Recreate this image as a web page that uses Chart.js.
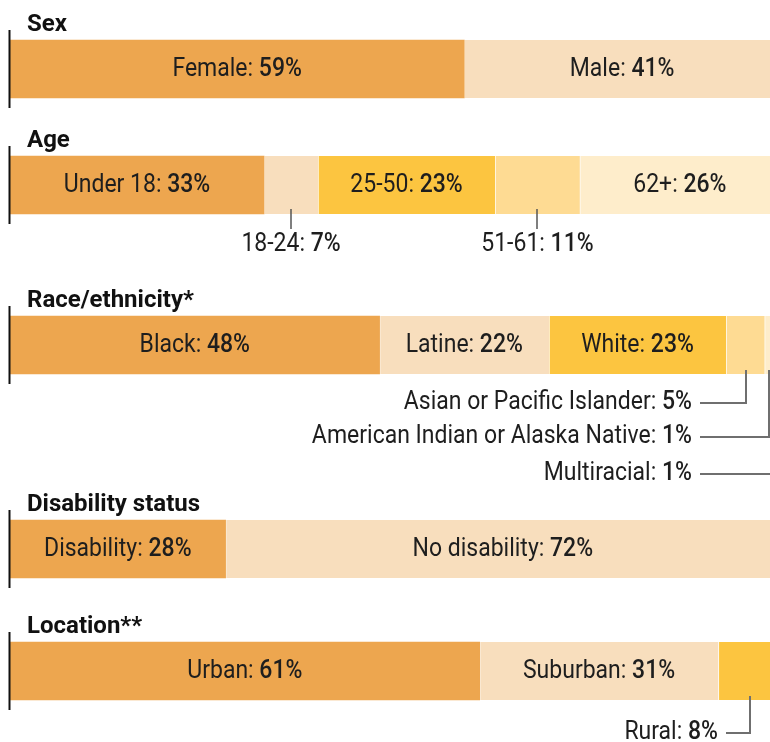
<!DOCTYPE html>
<html>
<head>
<meta charset="utf-8">
<script src="https://cdn.jsdelivr.net/npm/chart.js@4"></script>
<style>
  html, body { margin: 0; padding: 0; background: #fff; width: 770px; height: 742px; overflow: hidden; }
  canvas { position: absolute; left: 0; }
</style>
</head>
<body>
<canvas id="c0" width="780"></canvas>
<canvas id="c1" width="780"></canvas>
<canvas id="c2" width="780"></canvas>
<canvas id="c3" width="780"></canvas>
<canvas id="c4" width="780"></canvas>
<script>
// data
const groupTitles = ['Sex', 'Age', 'Race/ethnicity*', 'Disability status', 'Location**'];

const sexLabels = ['Female', 'Male'];
const sexValues = [59, 41];

const ageLabels = ['Under 18', '18-24', '25-50', '51-61', '62+'];
const ageValues = [33, 7, 23, 11, 26];

const raceLabels = ['Black', 'Latine', 'White', 'Asian or Pacific Islander', 'American Indian or Alaska Native', 'Multiracial'];
const raceValues = [48, 22, 23, 5, 1, 1];

const disabilityLabels = ['Disability', 'No disability'];
const disabilityValues = [28, 72];

const locationLabels = ['Urban', 'Suburban', 'Rural'];
const locationValues = [61, 31, 8];

// colours
const orange = '#EDA64F';
const peach = '#F8DEBD';
const yellow = '#FCC540';
const lightYellow = '#FEDB93';
const pale = '#FEEDCB';

const groups = [
  { labels: sexLabels, values: sexValues, colors: [orange, peach] },
  { labels: ageLabels, values: ageValues, colors: [orange, peach, yellow, lightYellow, pale] },
  { labels: raceLabels, values: raceValues, colors: [orange, peach, yellow, lightYellow, pale, peach] },
  { labels: disabilityLabels, values: disabilityValues, colors: [orange, peach] },
  { labels: locationLabels, values: locationValues, colors: [orange, peach, yellow] }
];

// layout
const barTops = [40, 156, 316, 520, 642];
const roomBelow = [10, 50, 125, 10, 34];
const callouts = [
  {},
  { 1: { type: 'below' }, 3: { type: 'below' } },
  { 3: { type: 'side', right: 692, dy: 29 }, 4: { type: 'side', right: 692, dy: 63 }, 5: { type: 'side', right: 692, dy: 100 } },
  {},
  { 2: { type: 'side', right: 718, dy: 33 } }
];

const textColor = '#1e1e1e';
const lineColor = '#6f6f6f';
const squeeze = 0.92; // the original uses a condensed face

function drawMixed(ctx, a, b, x, y, align) {
  ctx.font = '400 25px Roboto';
  const wa = ctx.measureText(a).width * squeeze;
  ctx.font = '500 25px Roboto';
  const wb = ctx.measureText(b).width * squeeze;
  const start = align === 'center' ? x - (wa + wb) / 2 : x - wa - wb;
  ctx.save();
  ctx.translate(start, y);
  ctx.scale(squeeze, 1);
  ctx.textAlign = 'left';
  ctx.textBaseline = 'middle';
  ctx.fillStyle = textColor;
  ctx.font = '400 25px Roboto';
  ctx.fillText(a, 0, 0);
  ctx.font = '500 25px Roboto';
  ctx.fillText(b, wa / squeeze, 0);
  ctx.restore();
}

const barLabels = {
  id: 'barLabels',
  afterDatasetsDraw(chart, args, opts) {
    const ctx = chart.ctx;
    const area = chart.chartArea;
    ctx.save();

    // left axis line
    ctx.strokeStyle = '#111';
    ctx.lineWidth = 2;
    ctx.beginPath();
    ctx.moveTo(area.left - 0.5, area.top);
    ctx.lineTo(area.left - 0.5, area.bottom);
    ctx.stroke();

    // group title
    ctx.fillStyle = '#111';
    ctx.font = 'bold 24px Roboto';
    ctx.textAlign = 'left';
    ctx.textBaseline = 'alphabetic';
    ctx.fillText(opts.title, 27, area.top + 1);

    chart.data.datasets.forEach((ds, i) => {
      const bar = chart.getDatasetMeta(i).data[0];
      const cx = (bar.base + bar.x) / 2;
      const bottom = bar.y + bar.height / 2;
      const name = ds.label + ': ';
      const val = ds.data[0] + '%';
      const c = opts.callouts[i];

      ctx.strokeStyle = lineColor;
      ctx.lineWidth = 2;
      if (!c) {
        drawMixed(ctx, name, val, cx, bar.y + 1, 'center');
      } else if (c.type === 'below') {
        ctx.strokeStyle = '#555';
        ctx.lineWidth = 1.5;
        ctx.beginPath();
        ctx.moveTo(Math.round(cx), bottom - 5);
        ctx.lineTo(Math.round(cx), bottom + 15);
        ctx.stroke();
        drawMixed(ctx, name, val, cx, bottom + 31, 'center');
      } else {
        const y = bottom + c.dy;
        ctx.beginPath();
        ctx.moveTo(c.right + 8, y);
        ctx.lineTo(Math.round(cx) + 1, y);
        ctx.lineTo(Math.round(cx) + 1, bottom - 4);
        ctx.stroke();
        drawMixed(ctx, name, val, c.right, y, 'right');
      }
    });
    ctx.restore();
  }
};

groups.forEach((g, gi) => {
  const canvas = document.getElementById('c' + gi);
  canvas.height = 30 + 78 + roomBelow[gi];
  canvas.style.top = (barTops[gi] - 40) + 'px';

  new Chart(canvas, {
    type: 'bar',
    data: {
      labels: [groupTitles[gi]],
      datasets: g.labels.map((lab, i) => ({
        label: lab,
        data: [g.values[i]],
        backgroundColor: g.colors[i],
        borderColor: 'rgba(255,255,255,0.6)',
        borderWidth: { left: i === 0 ? 0 : 1, right: 0, top: 0, bottom: 0 },
        borderSkipped: false,
        barThickness: 58
      }))
    },
    options: {
      indexAxis: 'y',
      responsive: false,
      devicePixelRatio: 1,
      animation: false,
      layout: { padding: { left: 10, right: 0, top: 30, bottom: roomBelow[gi] } },
      scales: {
        x: { stacked: true, min: 0, max: 100, display: false },
        y: { stacked: true, display: false }
      },
      plugins: {
        legend: { display: false },
        tooltip: { enabled: false },
        barLabels: { title: groupTitles[gi], callouts: callouts[gi] }
      }
    },
    plugins: [barLabels]
  });
});
</script>
</body>
</html>
